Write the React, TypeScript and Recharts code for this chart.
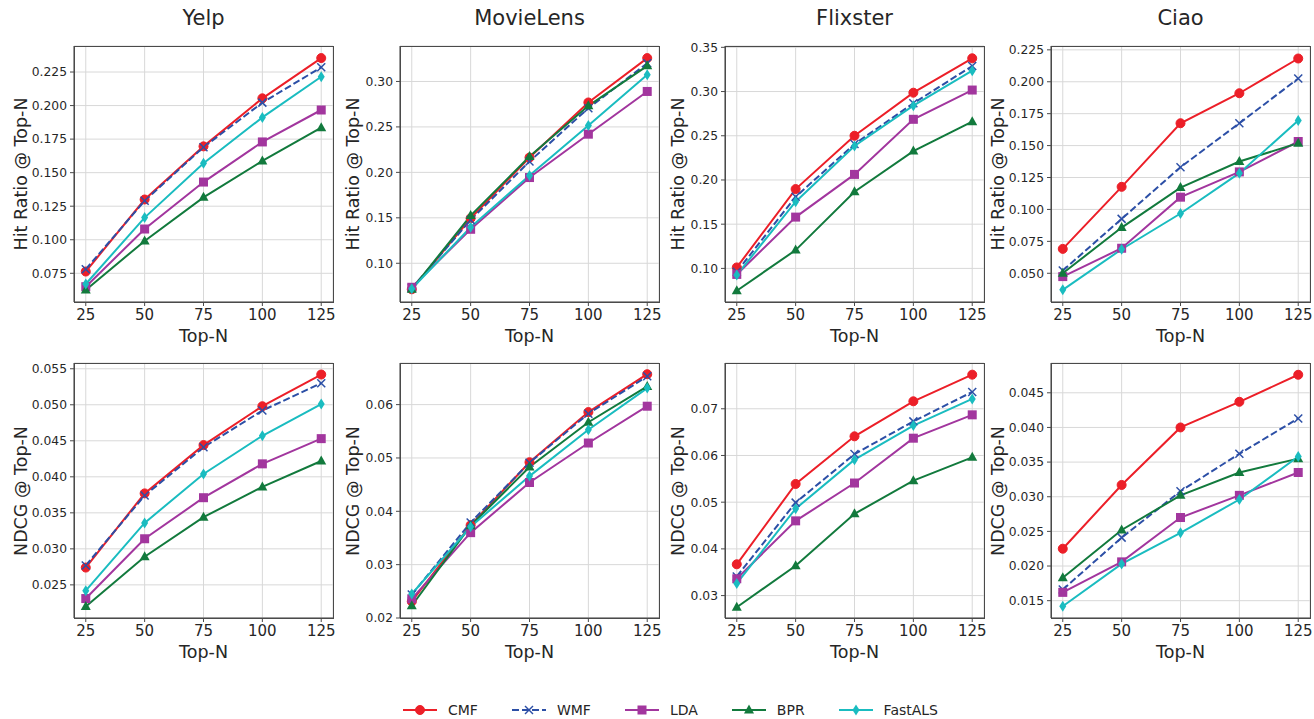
import React from 'react'
import { LineChart, Line, XAxis, YAxis, CartesianGrid } from 'recharts'

const topN = [25, 50, 75, 100, 125]
const methods = ['CMF', 'WMF', 'LDA', 'BPR', 'FastALS']
const datasets = ['Yelp', 'MovieLens', 'Flixster', 'Ciao']

// one row per method, same order as `methods`
const yelpHR = [
  [0.0763, 0.13, 0.1696, 0.2054, 0.2354],
  [0.078, 0.129, 0.169, 0.2022, 0.2285],
  [0.065, 0.108, 0.143, 0.1729, 0.1967],
  [0.0626, 0.0991, 0.1316, 0.1587, 0.1835],
  [0.067, 0.1165, 0.157, 0.1912, 0.2215],
]
const movieLensHR = [
  [0.0714, 0.1495, 0.2163, 0.2769, 0.3257],
  [0.0725, 0.1477, 0.212, 0.2706, 0.32],
  [0.0736, 0.1374, 0.1943, 0.242, 0.289],
  [0.0714, 0.1525, 0.2174, 0.2732, 0.3172],
  [0.072, 0.1396, 0.1965, 0.2516, 0.3073],
]
const flixsterHR = [
  [0.1011, 0.1897, 0.25, 0.2987, 0.3376],
  [0.0962, 0.181, 0.2406, 0.2867, 0.3289],
  [0.0932, 0.158, 0.2063, 0.2686, 0.3017],
  [0.0747, 0.1207, 0.1867, 0.2327, 0.2659],
  [0.0925, 0.1754, 0.2384, 0.284, 0.3236],
]
const ciaoHR = [
  [0.0691, 0.1177, 0.1675, 0.191, 0.2182],
  [0.0521, 0.0926, 0.1331, 0.1675, 0.2025],
  [0.0474, 0.0696, 0.1096, 0.1294, 0.1532],
  [0.05, 0.0858, 0.1171, 0.1375, 0.1519],
  [0.037, 0.0688, 0.0968, 0.1284, 0.1696],
]
const yelpNDCG = [
  [0.0274, 0.0377, 0.0444, 0.0498, 0.0542],
  [0.0277, 0.0374, 0.0441, 0.0492, 0.053],
  [0.0231, 0.0314, 0.0371, 0.0418, 0.0453],
  [0.022, 0.0289, 0.0344, 0.0386, 0.0422],
  [0.0242, 0.0336, 0.0404, 0.0457, 0.0501],
]
const movieLensNDCG = [
  [0.0231, 0.0374, 0.0492, 0.0586, 0.0657],
  [0.0244, 0.0379, 0.0491, 0.0583, 0.0653],
  [0.0236, 0.036, 0.0454, 0.0528, 0.0597],
  [0.0223, 0.0373, 0.0483, 0.0567, 0.0634],
  [0.0245, 0.0371, 0.0466, 0.0553, 0.0631],
]
const flixsterNDCG = [
  [0.0367, 0.0539, 0.0641, 0.0716, 0.0773],
  [0.0341, 0.0499, 0.0603, 0.0673, 0.0736],
  [0.0336, 0.046, 0.0541, 0.0637, 0.0687],
  [0.0275, 0.0364, 0.0475, 0.0546, 0.0596],
  [0.0326, 0.0486, 0.0591, 0.0664, 0.0721],
]
const ciaoNDCG = [
  [0.0225, 0.0317, 0.04, 0.0437, 0.0476],
  [0.0166, 0.0241, 0.0308, 0.0362, 0.0413],
  [0.0162, 0.0206, 0.027, 0.0302, 0.0335],
  [0.0183, 0.0252, 0.0302, 0.0335, 0.0355],
  [0.0142, 0.0203, 0.0248, 0.0296, 0.0358],
]

// y tick labels per panel
const yelpHRTicks = [0.075, 0.1, 0.125, 0.15, 0.175, 0.2, 0.225]
const movieLensHRTicks = [0.1, 0.15, 0.2, 0.25, 0.3]
const flixsterHRTicks = [0.1, 0.15, 0.2, 0.25, 0.3, 0.35]
const ciaoHRTicks = [0.05, 0.075, 0.1, 0.125, 0.15, 0.175, 0.2, 0.225]
const yelpNDCGTicks = [0.025, 0.03, 0.035, 0.04, 0.045, 0.05, 0.055]
const movieLensNDCGTicks = [0.02, 0.03, 0.04, 0.05, 0.06]
const flixsterNDCGTicks = [0.03, 0.04, 0.05, 0.06, 0.07]
const ciaoNDCGTicks = [0.015, 0.02, 0.025, 0.03, 0.035, 0.04, 0.045]

const colors: Record<string, string> = {
  CMF: '#ec1f28',
  WMF: '#2c4fa6',
  LDA: '#a2369e',
  BPR: '#127a3d',
  FastALS: '#1abcc0',
}

const FONT = '"DejaVu Sans", sans-serif'
const TEXT = '#262626'
const SPINE = '#4a4a4a'
const GRID = '#d8d8d8'

const PLOT_LEFT = [74, 400, 725, 1051]
const PLOT_TOP = [46, 363]
const PLOT_W = 259
const PLOT_H = [256, 255]
const Y_AXIS_W = 60
const X_AXIS_H = 30
const PAD = 10

const panels = [
  { row: 0, col: 0, vals: yelpHR, ticks: yelpHRTicks, domain: [0.0536, 0.2444], digits: 3, ylabel: 'Hit Ratio @ Top-N' },
  { row: 0, col: 1, vals: movieLensHR, ticks: movieLensHRTicks, domain: [0.0574, 0.339], digits: 2, ylabel: 'Hit Ratio @ Top-N' },
  { row: 0, col: 2, vals: flixsterHR, ticks: flixsterHRTicks, domain: [0.062, 0.3515], digits: 2, ylabel: 'Hit Ratio @ Top-N' },
  { row: 0, col: 3, vals: ciaoHR, ticks: ciaoHRTicks, domain: [0.0275, 0.228], digits: 3, ylabel: 'Hit Ratio @ Top-N' },
  { row: 1, col: 0, vals: yelpNDCG, ticks: yelpNDCGTicks, domain: [0.0204, 0.0558], digits: 3, ylabel: 'NDCG @ Top-N' },
  { row: 1, col: 1, vals: movieLensNDCG, ticks: movieLensNDCGTicks, domain: [0.02, 0.0678], digits: 2, ylabel: 'NDCG @ Top-N' },
  { row: 1, col: 2, vals: flixsterNDCG, ticks: flixsterNDCGTicks, domain: [0.0252, 0.0798], digits: 2, ylabel: 'NDCG @ Top-N' },
  { row: 1, col: 3, vals: ciaoNDCG, ticks: ciaoNDCGTicks, domain: [0.0125, 0.0493], digits: 3, ylabel: 'NDCG @ Top-N' },
]

function Marker({ method, cx, cy }: { method: string; cx: number; cy: number }) {
  const c = colors[method]
  if (method === 'CMF') return <circle cx={cx} cy={cy} r={4.5} fill={c} stroke={c} />
  if (method === 'WMF')
    return (
      <g stroke={c} strokeWidth={1.5}>
        <line x1={cx - 4} y1={cy - 4} x2={cx + 4} y2={cy + 4} />
        <line x1={cx - 4} y1={cy + 4} x2={cx + 4} y2={cy - 4} />
      </g>
    )
  if (method === 'LDA') return <rect x={cx - 4.5} y={cy - 4.5} width={9} height={9} fill={c} />
  if (method === 'BPR')
    return <polygon points={`${cx},${cy - 5.5} ${cx - 5},${cy + 3.5} ${cx + 5},${cy + 3.5}`} fill={c} />
  return <polygon points={`${cx},${cy - 5.5} ${cx + 3.5},${cy} ${cx},${cy + 5.5} ${cx - 3.5},${cy}`} fill={c} />
}

function Panel({ p }: { p: (typeof panels)[number] }) {
  const data = topN.map((n, i) => {
    const row: any = { n }
    methods.forEach((m, k) => (row[m] = p.vals[k][i]))
    return row
  })
  const left = PLOT_LEFT[p.col]
  const top = PLOT_TOP[p.row]
  const h = PLOT_H[p.row]
  const labelOffset = p.digits === 3 ? 53 : 47

  return (
    <>
      {p.row === 0 && (
        <div
          style={{
            position: 'absolute', left, width: PLOT_W, top: 6, textAlign: 'center',
            fontSize: 21, color: TEXT, fontFamily: FONT,
          }}
        >
          {datasets[p.col]}
        </div>
      )}
      <div style={{ position: 'absolute', left: left - Y_AXIS_W, top: top - PAD }}>
        <LineChart
          width={Y_AXIS_W + PLOT_W + PAD}
          height={PAD + h + X_AXIS_H}
          data={data}
          margin={{ top: PAD, right: PAD, bottom: 0, left: 0 }}
        >
          <CartesianGrid stroke={GRID} strokeWidth={1} />
          <XAxis
            dataKey="n"
            type="number"
            domain={[20, 130]}
            ticks={topN}
            height={X_AXIS_H}
            tickSize={4}
            tickMargin={3}
            axisLine={{ stroke: SPINE }}
            tickLine={{ stroke: SPINE }}
            tick={{ fill: TEXT, fontSize: 15, fontFamily: FONT }}
          />
          <YAxis
            type="number"
            domain={p.domain}
            allowDataOverflow
            ticks={p.ticks}
            width={Y_AXIS_W}
            tickSize={4}
            tickMargin={3}
            axisLine={{ stroke: SPINE }}
            tickLine={{ stroke: SPINE }}
            tickFormatter={(v: number) => v.toFixed(p.digits)}
            tick={{ fill: TEXT, fontSize: 12.3, fontFamily: FONT }}
          />
          {methods.map((m) => (
            <Line
              key={m}
              dataKey={m}
              type="linear"
              stroke={colors[m]}
              strokeWidth={2}
              strokeDasharray={m === 'WMF' ? '7 3' : undefined}
              isAnimationActive={false}
              dot={(d: any) => <Marker key={`${m}-${d.index}`} method={m} cx={d.cx} cy={d.cy} />}
              activeDot={false}
            />
          ))}
        </LineChart>
      </div>
      <div
        style={{
          position: 'absolute', left, top, width: PLOT_W - 1, height: h - 1,
          border: `1px solid ${SPINE}`, pointerEvents: 'none',
        }}
      />
      <div
        style={{
          position: 'absolute', left: left - labelOffset, top: top + h / 2,
          transform: 'translate(-50%, -50%) rotate(-90deg)', whiteSpace: 'nowrap',
          fontSize: 17.5, color: TEXT, fontFamily: FONT,
        }}
      >
        {p.ylabel}
      </div>
      <div
        style={{
          position: 'absolute', left, width: PLOT_W, top: top + h + 24, textAlign: 'center',
          fontSize: 17.5, color: TEXT, fontFamily: FONT,
        }}
      >
        Top-N
      </div>
    </>
  )
}

function LegendItem({ m }: { m: string }) {
  return (
    <div style={{ display: 'flex', alignItems: 'center', marginRight: 34 }}>
      <svg width={34} height={14} style={{ marginRight: 11 }}>
        <line
          x1={0} y1={7} x2={34} y2={7}
          stroke={colors[m]} strokeWidth={2}
          strokeDasharray={m === 'WMF' ? '7 3' : undefined}
        />
        <Marker method={m} cx={17} cy={7} />
      </svg>
      <span>{m}</span>
    </div>
  )
}

export default function App() {
  return (
    <div
      style={{
        position: 'absolute', left: 0, top: 0, width: 1314, height: 719,
        background: '#fff', overflow: 'hidden', fontFamily: FONT,
      }}
    >
      {panels.map((p, i) => (
        <Panel key={i} p={p} />
      ))}
      <div
        style={{
          position: 'absolute', left: 403, top: 702, display: 'flex', alignItems: 'center',
          fontSize: 14, color: TEXT, fontFamily: FONT,
        }}
      >
        {methods.map((m) => (
          <LegendItem key={m} m={m} />
        ))}
      </div>
    </div>
  )
}
